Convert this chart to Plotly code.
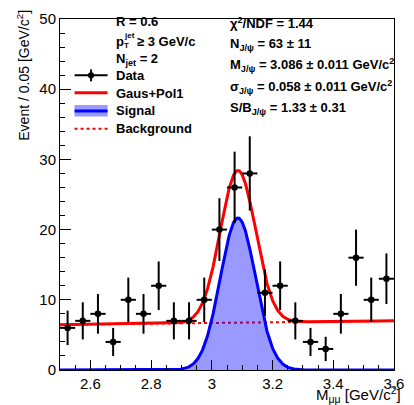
import numpy as np
import plotly.graph_objects as go

# Dimuon invariant-mass histogram (bin width 0.05 GeV/c^2)
bin_centers = [2.525, 2.575, 2.625, 2.675, 2.725, 2.775, 2.825, 2.875, 2.925, 2.975, 3.025,
               3.075, 3.125, 3.175, 3.225, 3.275, 3.325, 3.375, 3.425, 3.475, 3.525, 3.575]
counts = [6, 7, 8, 4, 10, 8, 12, 7, 7, 10, 20, 26, 28, 11, 12, 7, 4, 3, 8, 16, 10, 13]
bin_width = 0.05

# Fit results: Gaussian signal + first-order polynomial background
n_jpsi, n_jpsi_err = 63, 11
m_jpsi, m_jpsi_err = 3.086, 0.011
s_jpsi, s_jpsi_err = 0.058, 0.011
sb_ratio, sb_ratio_err = 1.33, 0.31
chi2_ndf = 1.44
bkg_p0, bkg_p1 = 6.45, 0.50   # background = p0 + p1 * (m - 2.5)

x_lo, x_hi = 2.5, 3.6
y_lo, y_hi = 0, 50

FONT = "Liberation Sans, Arial, Helvetica, sans-serif"
W, H = 414, 405
ML, MR, MT, MB = 60, 10, 15, 35
PW, PH = W - ML - MR, H - MT - MB


def px(xp):
    return (xp - ML) / PW


def py(yp):
    return (H - MB - yp) / PH


m = np.linspace(x_lo, x_hi, 600)
amp = n_jpsi * bin_width / (s_jpsi * np.sqrt(2 * np.pi))
signal = amp * np.exp(-0.5 * ((m - m_jpsi) / s_jpsi) ** 2)
background = bkg_p0 + bkg_p1 * (m - x_lo)
total = signal + background

y = np.array(counts, dtype=float)
yerr = np.sqrt(y)

RED = "rgb(255,0,0)"
BLUE = "rgb(0,0,255)"
FILL = "rgba(0,0,255,0.4)"

fig = go.Figure()
fig.add_trace(go.Scatter(x=m, y=background, mode="lines",
                         line=dict(color=RED, width=2, dash="dot"), showlegend=False))
fig.add_trace(go.Scatter(x=m, y=signal, mode="lines", fill="tozeroy", fillcolor=FILL,
                         line=dict(color=BLUE, width=3), showlegend=False))
fig.add_trace(go.Scatter(x=m, y=total, mode="lines",
                         line=dict(color=RED, width=3), showlegend=False))
fig.add_trace(go.Scatter(
    x=bin_centers, y=y, mode="markers",
    marker=dict(color="black", size=6.5, symbol="circle"),
    error_y=dict(type="data", array=yerr, color="black", thickness=2, width=0),
    error_x=dict(type="constant", value=bin_width / 2, color="black", thickness=2, width=0),
    showlegend=False, cliponaxis=False))

axis_common = dict(showgrid=False, zeroline=False, showline=True, linecolor="black",
                   linewidth=1, mirror=True, ticks="inside", tickcolor="black",
                   tickwidth=1, tickfont=dict(family=FONT, size=15, color="black"))

fig.update_xaxes(range=[x_lo, x_hi], tickvals=[2.6, 2.8, 3.0, 3.2, 3.4, 3.6],
                 ticktext=["2.6", "2.8", "3", "3.2", "3.4", "3.6"], ticklen=10,
                 minor=dict(dtick=0.05, ticklen=5, ticks="inside", tickcolor="black",
                            showgrid=False),
                 **axis_common)
fig.update_yaxes(range=[y_lo, y_hi], tickvals=[0, 10, 20, 30, 40, 50], ticklen=11,
                 minor=dict(dtick=2, ticklen=5, ticks="inside", tickcolor="black",
                            showgrid=False),
                 **axis_common)

ann = []
shapes = []


def text(xp, yp, s, size=13, anchor="left", **kw):
    ann.append(dict(xref="paper", yref="paper", x=px(xp), y=py(yp), text=s, showarrow=False,
                    xanchor=anchor, yanchor="middle",
                    font=dict(family=FONT, size=size, color="black"), **kw))


# Selection labels
text(116, 18, "<b>R = 0.6</b>")
text(116, 38, "<b>p</b>")
text(124, 32, "<b>jet</b>", size=8)
text(124, 42, "<b>T</b>", size=8)
text(137, 38, "<b>≥ 3 GeV/c</b>")
text(116, 56, "<b>N<sub>jet</sub> = 2</b>")

# Legend
legend_rows = [("Data", 72), ("Gaus+Pol1", 90), ("Signal", 108), ("Background", 126)]
for label, yy in legend_rows:
    text(116, yy, "<b>%s</b>" % label)

lx0, lx1 = 75, 109
shapes.append(dict(type="line", xref="paper", yref="paper", x0=px(lx0), x1=px(lx1),
                   y0=py(72), y1=py(72), line=dict(color="black", width=2)))
shapes.append(dict(type="line", xref="paper", yref="paper", x0=px(92), x1=px(92),
                   y0=py(66), y1=py(78), line=dict(color="black", width=2)))
shapes.append(dict(type="circle", xref="paper", yref="paper", x0=px(88.8), x1=px(95.2),
                   y0=py(75.2), y1=py(68.8), fillcolor="black", line=dict(color="black", width=0)))
shapes.append(dict(type="line", xref="paper", yref="paper", x0=px(lx0), x1=px(lx1),
                   y0=py(89.5), y1=py(89.5), line=dict(color=RED, width=3)))
shapes.append(dict(type="rect", xref="paper", yref="paper", x0=px(lx0), x1=px(lx1),
                   y0=py(113.5), y1=py(102), fillcolor=FILL, line=dict(width=0)))
shapes.append(dict(type="line", xref="paper", yref="paper", x0=px(lx0), x1=px(lx1),
                   y0=py(108), y1=py(108), line=dict(color=BLUE, width=3)))
shapes.append(dict(type="line", xref="paper", yref="paper", x0=px(lx0), x1=px(lx1),
                   y0=py(126), y1=py(126), line=dict(color=RED, width=2, dash="dot")))

# Fit summary
fit_lines = [
    "<b>χ<sup>2</sup>/NDF = %.2f</b>" % chi2_ndf,
    "<b>N<sub>J/ψ</sub> = %d ± %d</b>" % (n_jpsi, n_jpsi_err),
    "<b>M<sub>J/ψ</sub> = %.3f ± %.3f GeV/c<sup>2</sup></b>" % (m_jpsi, m_jpsi_err),
    "<b>σ<sub>J/ψ</sub> = %.3f ± %.3f GeV/c<sup>2</sup></b>" % (s_jpsi, s_jpsi_err),
    "<b>S/B<sub>J/ψ</sub> = %.2f ± %.2f</b>" % (sb_ratio, sb_ratio_err),
]
for s, yy in zip(fit_lines, [19, 41, 62, 84, 106]):
    text(233, yy, s)

# Axis titles
ann.append(dict(xref="paper", yref="paper", x=px(22), y=py(4), xanchor="center", yanchor="top",
                text="Event / 0.05 [GeV/c<sup>2</sup>]", textangle=-90, showarrow=False,
                font=dict(family=FONT, size=14, color="black")))
ann.append(dict(xref="paper", yref="paper", x=px(413), y=py(395), xanchor="right",
                yanchor="middle", text="M<sub>μμ</sub> [GeV/c<sup>2</sup>]", showarrow=False,
                font=dict(family=FONT, size=15, color="black")))

fig.update_layout(width=W, height=H, margin=dict(l=ML, r=MR, t=MT, b=MB, pad=0),
                  paper_bgcolor="white", plot_bgcolor="white",
                  annotations=ann, shapes=shapes, showlegend=False)

fig.write_html("out.html")
